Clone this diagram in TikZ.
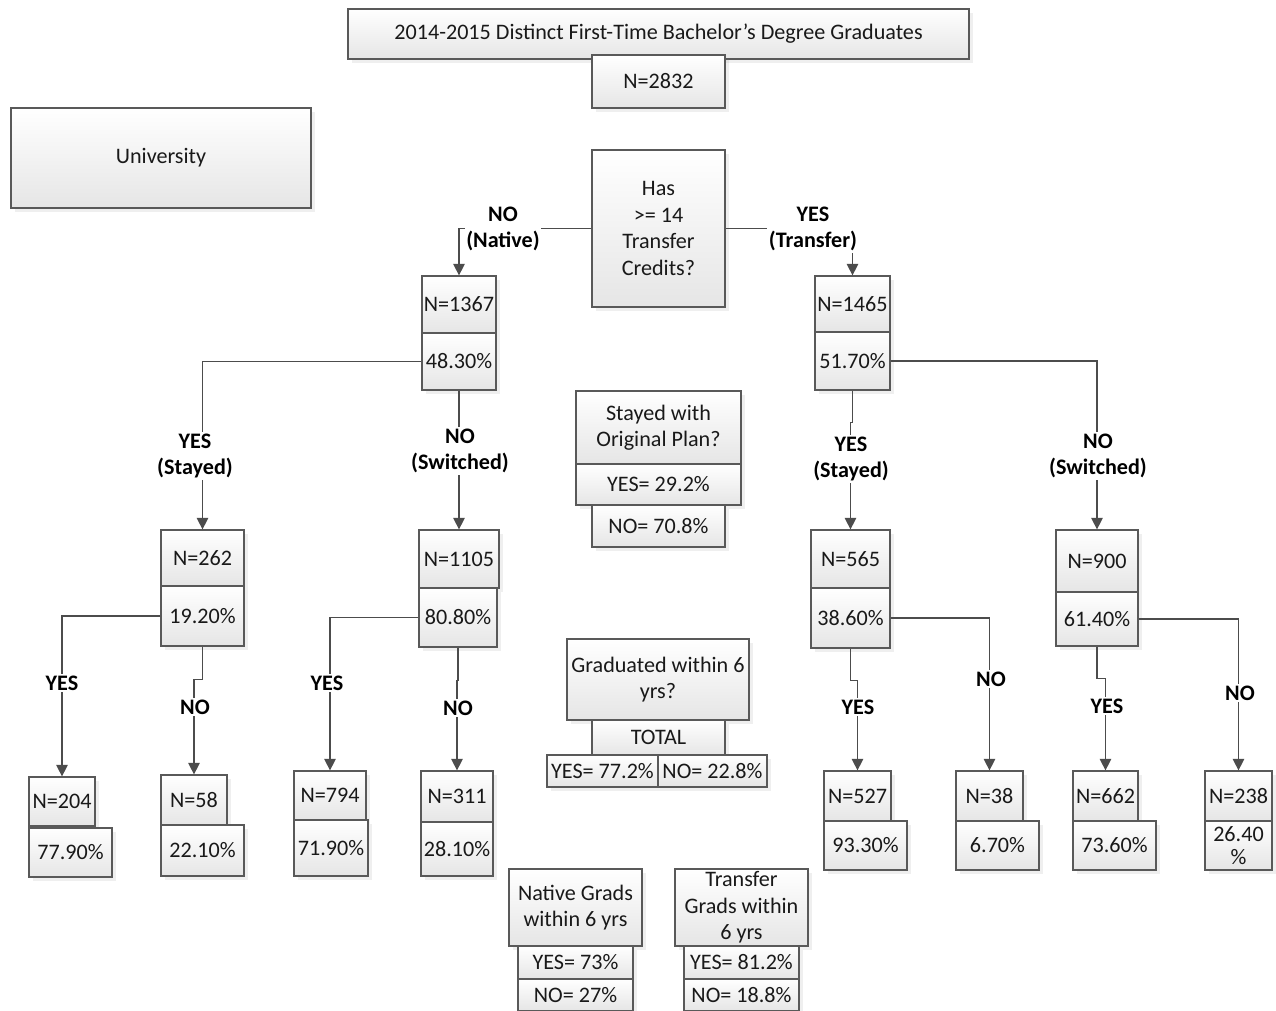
\documentclass[tikz,border=0pt]{standalone}
\usepackage{fontspec}
\setmainfont{Carlito}
\usetikzlibrary{arrows.meta,shadows}

\begin{document}
\begin{tikzpicture}[x=0.02cm, y=-0.02cm]
	\tikzset{boite/.style={draw=black!65, line width=0.7pt, top color=white, bottom color=black!10, text=black!90, align=center, inner sep=0pt, font=\fontsize{12.6}{15}\selectfont, drop shadow={opacity=0.12, shadow xshift=2pt, shadow yshift=-2pt}},
		taille/.style 2 args={minimum width=#1*0.02cm, minimum height=#2*0.02cm},
		fleche/.style={draw=black!70, line width=0.65pt, -{Triangle[width=6.5pt, length=6.5pt]}},
		etiq/.style={fill=white, inner sep=1pt, align=center, text=black, font=\fontsize{12.6}{15}\selectfont\bfseries}};

	\useasboundingbox[fill=white] (0,0) rectangle (1276,1011);

	% haut
	\node[boite, taille={621}{50}]  (titre) at (658.5,   34) {2014-2015 Distinct First-Time Bachelor’s Degree Graduates};
	\node[boite, taille={133}{53}]  (n0)    at (658.5, 81.5) {N=2832};
	\node[boite, taille={300}{100}] (univ)  at (  161,  158) {University};
	\node[boite, taille={133}{157}] (q1)    at (658.5,228.5) {Has\\>= 14\\Transfer\\Credits?};

	\node[boite, taille={74}{57}]   (n1)    at (  459,304.5) {N=1367};
	\node[boite, taille={74}{57}]   (p1)    at (  459,361.5) {48.30\%};
	\node[boite, taille={75}{56}]   (n2)    at (852.5,  304) {N=1465};
	\node[boite, taille={75}{58}]   (p2)    at (852.5,  361) {51.70\%};

	\node[boite, taille={165}{73}]  (q2)    at (658.5,427.5) {Stayed with\\Original Plan?};
	\node[boite, taille={165}{41}]  (q2o)   at (658.5,484.5) {YES= 29.2\%};
	\node[boite, taille={133}{42}]  (q2n)   at (658.5,  526) {NO= 70.8\%};

	% milieu
	\node[boite, taille={83}{56}]   (n11)   at (202.5,  558) {N=262};
	\node[boite, taille={83}{60}]   (p11)   at (202.5,  616) {19.20\%};
	\node[boite, taille={80}{58}]   (n12)   at (  459,  559) {N=1105};
	\node[boite, taille={78}{59}]   (p12)   at (  458,617.5) {80.80\%};
	\node[boite, taille={79}{58}]   (n21)   at (850.5,  559) {N=565};
	\node[boite, taille={79}{60}]   (p21)   at (850.5,  618) {38.60\%};
	\node[boite, taille={82}{62}]   (n22)   at ( 1097,  561) {N=900};
	\node[boite, taille={82}{54}]   (p22)   at ( 1097,  619) {61.40\%};

	\node[boite, taille={182}{81}]  (q3)    at (  658,679.5) {Graduated within 6\\yrs?};
	\node[boite, taille={133}{35}]  (q3t)   at (658.5,737.5) {TOTAL};
	\node[boite, taille={111}{32}]  (q3o)   at (602.5,  771) {YES= 77.2\%};
	\node[boite, taille={109}{32}]  (q3n)   at (712.5,  771) {NO= 22.8\%};

	% feuilles
	\node[boite, taille={66}{49}]   (n111)  at (   62,801.5) {N=204};
	\node[boite, taille={83}{49}]   (p111)  at ( 70.5,852.5) {77.90\%};
	\node[boite, taille={66}{50}]   (n112)  at (  194,  800) {N=58};
	\node[boite, taille={83}{51}]   (p112)  at (202.5,850.5) {22.10\%};
	\node[boite, taille={72}{49}]   (n121)  at (  330,795.5) {N=794};
	\node[boite, taille={74}{56}]   (p121)  at (  331,  848) {71.90\%};
	\node[boite, taille={72}{51}]   (n122)  at (  457,796.5) {N=311};
	\node[boite, taille={72}{54}]   (p122)  at (  457,  849) {28.10\%};
	\node[boite, taille={67}{50}]   (n211)  at (857.5,  796) {N=527};
	\node[boite, taille={83}{49}]   (p211)  at (865.5,845.5) {93.30\%};
	\node[boite, taille={67}{50}]   (n212)  at (989.5,  796) {N=38};
	\node[boite, taille={83}{49}]   (p212)  at (997.5,845.5) {6.70\%};
	\node[boite, taille={65}{50}]   (n221)  at (1105.5, 796) {N=662};
	\node[boite, taille={83}{49}]   (p221)  at (1114.5,845.5) {73.60\%};
	\node[boite, taille={67}{50}]   (n222)  at (1238.5, 796) {N=238};
	\node[boite, taille={67}{49}, font=\fontsize{12.6}{13.5}\selectfont] (p222) at (1238.5,845.5) {26.40\\\%};

	% bas
	\node[boite, taille={133}{77}]  (g1)    at (575.5,907.5) {Native Grads\\within 6 yrs};
	\node[boite, taille={115}{33}]  (g1o)   at (575.5,962.5) {YES= 73\%};
	\node[boite, taille={115}{32}]  (g1n)   at (575.5,  995) {NO= 27\%};
	\node[boite, taille={133}{77}]  (g2)    at (741.5,907.5) {Transfer\\Grads within\\6 yrs};
	\node[boite, taille={115}{33}]  (g2o)   at (741.5,962.5) {YES= 81.2\%};
	\node[boite, taille={115}{32}]  (g2n)   at (741.5,  995) {NO= 18.8\%};

	% liens
	\draw[fleche] (q1.west) -| (n1.north);
	\draw[fleche] (q1.east) -| (n2.north);
	\draw[fleche] (p1.west) -| (n11.north);
	\draw[fleche] (p1.south) -- (n12.north);
	\draw[fleche] (p2.south) -- ++(0,32) -| (n21.north);
	\draw[fleche] (p2.east) -| (n22.north);
	\draw[fleche] (p11.west) -| (n111.north);
	\draw[fleche] (p11.south) -- ++(0,33) -| (n112.north);
	\draw[fleche] (p12.west) -| (n121.north);
	\draw[fleche] (p12.south) -- ++(0,33) -| (n122.north);
	\draw[fleche] (p21.south) -- ++(0,32) -| (n211.north);
	\draw[fleche] (p21.east) -| (n212.north);
	\draw[fleche] (p22.south) -- ++(0,32) -| (n221.north);
	\draw[fleche] (p22.east) -| (n222.north);

	% etiquettes
	\node[etiq] (lnat) at ( 503, 229) {NO\\(Native)};
	\node[etiq] (ltra) at ( 813, 229) {YES\\(Transfer)};
	\node[etiq] (ls1)  at ( 195, 456) {YES\\(Stayed)};
	\node[etiq] (lw1)  at ( 460, 451) {NO\\(Switched)};
	\node[etiq] (ls2)  at ( 851, 459) {YES\\(Stayed)};
	\node[etiq] (lw2)  at (1098, 456) {NO\\(Switched)};
	\node[etiq] (l111) at (  62, 683) {YES};
	\node[etiq] (l112) at ( 195, 707) {NO};
	\node[etiq] (l121) at ( 327, 683) {YES};
	\node[etiq] (l122) at ( 458, 708) {NO};
	\node[etiq] (l211) at ( 858, 707) {YES};
	\node[etiq] (l212) at ( 991, 679) {NO};
	\node[etiq] (l221) at (1107, 706) {YES};
	\node[etiq] (l222) at (1240, 693) {NO};
\end{tikzpicture}
\end{document}
